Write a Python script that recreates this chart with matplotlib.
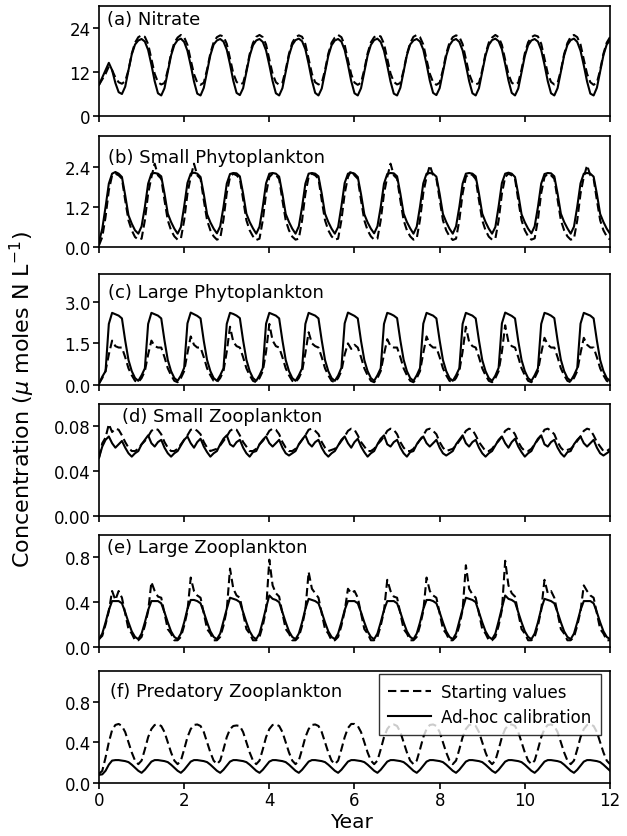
import numpy as np
import matplotlib
matplotlib.use("Agg")
import matplotlib.pyplot as plt

# model output, 13 steps per year, 12 years
years = np.arange(157) / 13.0

# (a) Nitrate
nitrate_adhoc = [
    8.5, 10.5, 12.5, 14.5, 12.5, 9.0, 6.5, 6.0, 8.0, 12.5, 16.8, 19.5,
    20.6, 21.0, 20.3, 18.0, 14.0, 9.5, 6.2, 5.6, 7.6, 12.0, 16.5, 19.4,
    20.7, 21.1, 20.2, 17.8, 13.8, 9.4, 6.1, 5.6, 7.7, 12.2, 16.6, 19.5,
    20.6, 21.0, 20.3, 18.1, 14.1, 9.6, 6.3, 5.7, 7.6, 12.0, 16.4, 19.3,
    20.6, 21.0, 20.2, 17.9, 13.9, 9.5, 6.2, 5.6, 7.6, 12.1, 16.5, 19.4,
    20.7, 21.1, 20.4, 18.2, 14.2, 9.7, 6.3, 5.6, 7.5, 11.9, 16.4, 19.3,
    20.6, 21.0, 20.3, 18.0, 14.0, 9.5, 6.2, 5.6, 7.6, 12.0, 16.5, 19.4,
    20.7, 21.1, 20.2, 17.8, 13.8, 9.4, 6.1, 5.6, 7.7, 12.2, 16.6, 19.5,
    20.6, 21.0, 20.3, 18.1, 14.1, 9.6, 6.3, 5.7, 7.6, 12.0, 16.4, 19.3,
    20.6, 21.0, 20.2, 17.9, 13.9, 9.5, 6.2, 5.6, 7.6, 12.1, 16.5, 19.4,
    20.7, 21.1, 20.4, 18.2, 14.2, 9.7, 6.3, 5.6, 7.5, 11.9, 16.4, 19.3,
    20.6, 21.0, 20.3, 18.0, 14.0, 9.5, 6.2, 5.6, 7.6, 12.0, 16.5, 19.4,
    20.7, 21.1, 20.2, 17.8, 13.8, 9.4, 6.1, 5.6, 7.7, 12.2, 16.6, 19.5,
    20.6]
nitrate_start = [
    8.5, 10.0, 11.5, 13.5, 12.5, 10.5, 9.2, 8.8, 9.5, 12.5, 17.0, 20.0,
    21.5, 22.0, 21.6, 19.6, 15.5, 11.5, 9.2, 8.6, 9.0, 12.5, 17.0, 20.0,
    21.4, 22.1, 21.5, 19.4, 15.3, 11.4, 9.1, 8.5, 9.1, 12.7, 17.1, 20.1,
    21.5, 22.0, 21.7, 19.7, 15.6, 11.6, 9.3, 8.6, 9.0, 12.4, 16.9, 19.9,
    21.6, 22.1, 21.5, 19.5, 15.4, 11.5, 9.2, 8.5, 9.1, 12.6, 17.0, 20.0,
    21.5, 22.0, 21.6, 19.6, 15.5, 11.5, 9.2, 8.6, 9.0, 12.5, 17.0, 20.0,
    21.4, 22.1, 21.5, 19.4, 15.3, 11.4, 9.1, 8.5, 9.1, 12.7, 17.1, 20.1,
    21.5, 22.0, 21.7, 19.7, 15.6, 11.6, 9.3, 8.6, 9.0, 12.4, 16.9, 19.9,
    21.6, 22.1, 21.5, 19.5, 15.4, 11.5, 9.2, 8.5, 9.1, 12.6, 17.0, 20.0,
    21.5, 22.0, 21.6, 19.6, 15.5, 11.5, 9.2, 8.6, 9.0, 12.5, 17.0, 20.0,
    21.4, 22.1, 21.5, 19.4, 15.3, 11.4, 9.1, 8.5, 9.1, 12.7, 17.1, 20.1,
    21.5, 22.0, 21.7, 19.7, 15.6, 11.6, 9.3, 8.6, 9.0, 12.4, 16.9, 19.9,
    21.6, 22.1, 21.5, 19.5, 15.4, 11.5, 9.2, 8.5, 9.1, 12.6, 17.0, 20.0,
    21.5]

# (b) Small Phytoplankton
sphyto_adhoc = [
    0.15, 0.55, 1.20, 1.90, 2.20, 2.25, 2.20, 2.10, 1.55, 0.95, 0.70, 0.50,
    0.40, 0.62, 1.20, 1.90, 2.20, 2.22, 2.20, 2.12, 1.60, 1.00, 0.75, 0.55,
    0.40, 0.60, 1.22, 1.92, 2.20, 2.23, 2.20, 2.10, 1.58, 0.98, 0.74, 0.55,
    0.41, 0.62, 1.20, 1.90, 2.19, 2.22, 2.21, 2.12, 1.60, 1.00, 0.75, 0.56,
    0.40, 0.61, 1.21, 1.91, 2.20, 2.22, 2.20, 2.11, 1.59, 0.99, 0.75, 0.55,
    0.40, 0.62, 1.20, 1.90, 2.20, 2.22, 2.20, 2.12, 1.60, 1.00, 0.75, 0.55,
    0.40, 0.60, 1.22, 1.92, 2.20, 2.23, 2.20, 2.10, 1.58, 0.98, 0.74, 0.55,
    0.41, 0.62, 1.20, 1.90, 2.19, 2.22, 2.21, 2.12, 1.60, 1.00, 0.75, 0.56,
    0.40, 0.61, 1.21, 1.91, 2.20, 2.22, 2.20, 2.11, 1.59, 0.99, 0.75, 0.55,
    0.40, 0.62, 1.20, 1.90, 2.20, 2.22, 2.20, 2.12, 1.60, 1.00, 0.75, 0.55,
    0.40, 0.60, 1.22, 1.92, 2.20, 2.23, 2.20, 2.10, 1.58, 0.98, 0.74, 0.55,
    0.41, 0.62, 1.20, 1.90, 2.19, 2.22, 2.21, 2.12, 1.60, 1.00, 0.75, 0.56,
    0.40, 0.61, 1.21, 1.91, 2.20, 2.22, 2.20, 2.11, 1.59, 0.99, 0.75, 0.55,
    0.40]
sphyto_start = [
    0.05, 0.30, 0.90, 1.70, 2.15, 2.20, 2.15, 2.05, 1.40, 0.80, 0.50, 0.30,
    0.22, 0.25, 0.80, 1.60, 2.10, 2.50, 2.15, 2.05, 1.40, 0.80, 0.50, 0.32,
    0.22, 0.25, 0.80, 1.60, 2.10, 2.50, 2.15, 2.05, 1.40, 0.80, 0.50, 0.32,
    0.22, 0.26, 0.82, 1.62, 2.10, 2.20, 2.15, 2.05, 1.42, 0.80, 0.50, 0.32,
    0.21, 0.25, 0.80, 1.60, 2.10, 2.20, 2.16, 2.04, 1.40, 0.80, 0.50, 0.31,
    0.22, 0.25, 0.80, 1.60, 2.10, 2.20, 2.15, 2.05, 1.40, 0.80, 0.50, 0.32,
    0.22, 0.25, 0.80, 1.60, 2.10, 2.30, 2.15, 2.05, 1.40, 0.80, 0.50, 0.32,
    0.22, 0.25, 0.80, 1.60, 2.10, 2.50, 2.15, 2.05, 1.40, 0.80, 0.50, 0.32,
    0.22, 0.26, 0.82, 1.62, 2.10, 2.45, 2.15, 2.05, 1.42, 0.80, 0.50, 0.32,
    0.21, 0.25, 0.80, 1.60, 2.10, 2.20, 2.16, 2.04, 1.40, 0.80, 0.50, 0.31,
    0.22, 0.25, 0.80, 1.60, 2.10, 2.20, 2.15, 2.05, 1.40, 0.80, 0.50, 0.32,
    0.22, 0.26, 0.82, 1.62, 2.10, 2.20, 2.15, 2.05, 1.42, 0.80, 0.50, 0.32,
    0.22, 0.25, 0.80, 1.60, 2.10, 2.45, 2.15, 2.05, 1.40, 0.80, 0.50, 0.32,
    0.22]

# (c) Large Phytoplankton
lphyto_adhoc = [
    0.05, 0.30, 0.50, 2.20, 2.60, 2.55, 2.50, 2.40, 1.60, 0.90, 0.50, 0.25,
    0.15, 0.35, 0.60, 2.20, 2.60, 2.55, 2.50, 2.40, 1.60, 0.90, 0.50, 0.25,
    0.15, 0.34, 0.62, 2.22, 2.61, 2.55, 2.49, 2.40, 1.58, 0.90, 0.50, 0.25,
    0.15, 0.35, 0.60, 2.20, 2.60, 2.56, 2.50, 2.41, 1.60, 0.91, 0.50, 0.25,
    0.15, 0.35, 0.61, 2.21, 2.60, 2.55, 2.50, 2.40, 1.60, 0.90, 0.50, 0.25,
    0.15, 0.35, 0.60, 2.20, 2.60, 2.55, 2.50, 2.40, 1.60, 0.90, 0.50, 0.25,
    0.15, 0.34, 0.62, 2.22, 2.61, 2.55, 2.49, 2.40, 1.58, 0.90, 0.50, 0.25,
    0.15, 0.35, 0.60, 2.20, 2.60, 2.56, 2.50, 2.41, 1.60, 0.91, 0.50, 0.25,
    0.15, 0.35, 0.61, 2.21, 2.60, 2.55, 2.50, 2.40, 1.60, 0.90, 0.50, 0.25,
    0.15, 0.35, 0.60, 2.20, 2.60, 2.55, 2.50, 2.40, 1.60, 0.90, 0.50, 0.25,
    0.15, 0.34, 0.62, 2.22, 2.61, 2.55, 2.49, 2.40, 1.58, 0.90, 0.50, 0.25,
    0.15, 0.35, 0.60, 2.20, 2.60, 2.56, 2.50, 2.41, 1.60, 0.91, 0.50, 0.25,
    0.15, 0.35, 0.61, 2.21, 2.60, 2.55, 2.50, 2.40, 1.60, 0.90, 0.50, 0.25,
    0.15]
lphyto_start = [
    0.05, 0.25, 0.50, 1.10, 1.60, 1.40, 1.35, 1.35, 1.00, 0.60, 0.35, 0.15,
    0.10, 0.25, 0.50, 1.10, 1.60, 1.40, 1.35, 1.35, 1.00, 0.60, 0.35, 0.15,
    0.10, 0.25, 0.50, 1.15, 1.75, 1.45, 1.35, 1.35, 1.00, 0.60, 0.35, 0.15,
    0.10, 0.25, 0.50, 1.20, 2.10, 1.55, 1.40, 1.35, 1.00, 0.60, 0.35, 0.15,
    0.10, 0.25, 0.50, 1.20, 2.20, 1.60, 1.40, 1.35, 1.00, 0.60, 0.35, 0.15,
    0.10, 0.25, 0.50, 1.15, 1.90, 1.50, 1.40, 1.35, 1.00, 0.60, 0.35, 0.15,
    0.10, 0.25, 0.50, 1.10, 1.50, 1.30, 1.45, 1.35, 1.00, 0.60, 0.35, 0.15,
    0.10, 0.25, 0.50, 1.10, 1.65, 1.40, 1.35, 1.35, 1.00, 0.60, 0.35, 0.15,
    0.10, 0.25, 0.50, 1.15, 1.75, 1.45, 1.35, 1.35, 1.00, 0.60, 0.35, 0.15,
    0.10, 0.25, 0.50, 1.20, 2.10, 1.55, 1.40, 1.35, 1.00, 0.60, 0.35, 0.15,
    0.10, 0.25, 0.50, 1.20, 2.15, 1.55, 1.40, 1.35, 1.00, 0.60, 0.35, 0.15,
    0.10, 0.25, 0.50, 1.15, 1.70, 1.45, 1.35, 1.35, 1.00, 0.60, 0.35, 0.15,
    0.10, 0.25, 0.50, 1.15, 1.70, 1.45, 1.35, 1.35, 1.00, 0.60, 0.35, 0.15,
    0.10]

# (d) Small Zooplankton
szoo_adhoc = [
    0.052, 0.062, 0.068, 0.071, 0.065, 0.061, 0.064, 0.067, 0.061, 0.056, 0.053, 0.056,
    0.058, 0.064, 0.068, 0.072, 0.065, 0.062, 0.066, 0.068, 0.061, 0.056, 0.053, 0.056,
    0.058, 0.063, 0.068, 0.071, 0.065, 0.061, 0.066, 0.069, 0.062, 0.057, 0.053, 0.056,
    0.058, 0.064, 0.069, 0.072, 0.064, 0.062, 0.066, 0.068, 0.061, 0.056, 0.053, 0.057,
    0.058, 0.064, 0.068, 0.071, 0.065, 0.062, 0.065, 0.068, 0.061, 0.056, 0.054, 0.056,
    0.058, 0.064, 0.068, 0.072, 0.065, 0.062, 0.066, 0.068, 0.061, 0.056, 0.053, 0.056,
    0.058, 0.063, 0.068, 0.071, 0.065, 0.061, 0.066, 0.069, 0.062, 0.057, 0.053, 0.056,
    0.058, 0.064, 0.069, 0.072, 0.064, 0.062, 0.066, 0.068, 0.061, 0.056, 0.053, 0.057,
    0.058, 0.064, 0.068, 0.071, 0.065, 0.062, 0.065, 0.068, 0.061, 0.056, 0.054, 0.056,
    0.058, 0.064, 0.068, 0.072, 0.065, 0.062, 0.066, 0.068, 0.061, 0.056, 0.053, 0.056,
    0.058, 0.063, 0.068, 0.071, 0.065, 0.061, 0.066, 0.069, 0.062, 0.057, 0.053, 0.056,
    0.058, 0.064, 0.069, 0.072, 0.064, 0.062, 0.066, 0.068, 0.061, 0.056, 0.053, 0.057,
    0.058, 0.064, 0.068, 0.071, 0.065, 0.062, 0.065, 0.068, 0.061, 0.056, 0.054, 0.056,
    0.058]
szoo_start = [
    0.052, 0.065, 0.070, 0.082, 0.075, 0.078, 0.077, 0.072, 0.066, 0.061, 0.058, 0.058,
    0.060, 0.064, 0.067, 0.071, 0.076, 0.078, 0.077, 0.073, 0.066, 0.061, 0.058, 0.058,
    0.060, 0.064, 0.068, 0.072, 0.077, 0.078, 0.076, 0.073, 0.066, 0.061, 0.058, 0.059,
    0.060, 0.063, 0.067, 0.071, 0.076, 0.078, 0.077, 0.072, 0.066, 0.062, 0.058, 0.058,
    0.060, 0.064, 0.067, 0.071, 0.076, 0.078, 0.077, 0.073, 0.066, 0.061, 0.058, 0.058,
    0.060, 0.064, 0.068, 0.072, 0.077, 0.078, 0.076, 0.073, 0.066, 0.061, 0.058, 0.059,
    0.060, 0.063, 0.067, 0.071, 0.076, 0.078, 0.077, 0.072, 0.066, 0.062, 0.058, 0.058,
    0.060, 0.064, 0.067, 0.071, 0.076, 0.078, 0.077, 0.073, 0.066, 0.061, 0.058, 0.058,
    0.060, 0.064, 0.068, 0.072, 0.077, 0.078, 0.076, 0.073, 0.066, 0.061, 0.058, 0.059,
    0.060, 0.063, 0.067, 0.071, 0.076, 0.078, 0.077, 0.072, 0.066, 0.062, 0.058, 0.058,
    0.060, 0.064, 0.067, 0.071, 0.076, 0.078, 0.077, 0.073, 0.066, 0.061, 0.058, 0.058,
    0.060, 0.064, 0.068, 0.072, 0.077, 0.078, 0.076, 0.073, 0.066, 0.061, 0.058, 0.059,
    0.060, 0.063, 0.067, 0.071, 0.076, 0.078, 0.077, 0.072, 0.066, 0.062, 0.058, 0.058,
    0.060]

# (e) Large Zooplankton
lzoo_adhoc = [
    0.07, 0.12, 0.22, 0.33, 0.41, 0.41, 0.41, 0.39, 0.31, 0.22, 0.14, 0.09,
    0.07, 0.12, 0.22, 0.33, 0.41, 0.41, 0.41, 0.39, 0.31, 0.22, 0.14, 0.09,
    0.07, 0.12, 0.22, 0.34, 0.42, 0.42, 0.41, 0.39, 0.31, 0.22, 0.14, 0.09,
    0.07, 0.12, 0.23, 0.34, 0.44, 0.43, 0.42, 0.40, 0.31, 0.22, 0.14, 0.09,
    0.07, 0.12, 0.23, 0.35, 0.46, 0.43, 0.42, 0.40, 0.31, 0.22, 0.14, 0.09,
    0.07, 0.12, 0.22, 0.34, 0.43, 0.42, 0.41, 0.39, 0.31, 0.22, 0.14, 0.09,
    0.07, 0.12, 0.22, 0.33, 0.41, 0.41, 0.41, 0.39, 0.31, 0.22, 0.14, 0.09,
    0.07, 0.12, 0.22, 0.33, 0.41, 0.41, 0.41, 0.39, 0.31, 0.22, 0.14, 0.09,
    0.07, 0.12, 0.22, 0.34, 0.42, 0.42, 0.41, 0.39, 0.31, 0.22, 0.14, 0.09,
    0.07, 0.12, 0.23, 0.34, 0.44, 0.43, 0.42, 0.40, 0.31, 0.22, 0.14, 0.09,
    0.07, 0.12, 0.23, 0.35, 0.46, 0.43, 0.42, 0.40, 0.31, 0.22, 0.14, 0.09,
    0.07, 0.12, 0.22, 0.34, 0.43, 0.42, 0.41, 0.39, 0.31, 0.22, 0.14, 0.09,
    0.07, 0.12, 0.22, 0.33, 0.41, 0.41, 0.41, 0.39, 0.31, 0.22, 0.14, 0.09,
    0.07]
lzoo_start = [
    0.07, 0.10, 0.20, 0.32, 0.50, 0.42, 0.50, 0.44, 0.30, 0.16, 0.12, 0.06,
    0.06, 0.09, 0.19, 0.32, 0.58, 0.50, 0.45, 0.44, 0.30, 0.16, 0.12, 0.06,
    0.06, 0.09, 0.19, 0.32, 0.62, 0.50, 0.46, 0.44, 0.30, 0.16, 0.12, 0.06,
    0.06, 0.09, 0.19, 0.33, 0.70, 0.52, 0.46, 0.44, 0.30, 0.16, 0.12, 0.06,
    0.06, 0.09, 0.19, 0.33, 0.78, 0.55, 0.48, 0.45, 0.30, 0.16, 0.12, 0.06,
    0.06, 0.09, 0.19, 0.33, 0.67, 0.52, 0.48, 0.44, 0.30, 0.16, 0.12, 0.06,
    0.06, 0.09, 0.19, 0.32, 0.52, 0.48, 0.50, 0.44, 0.30, 0.16, 0.12, 0.06,
    0.06, 0.09, 0.19, 0.32, 0.60, 0.50, 0.45, 0.44, 0.30, 0.16, 0.12, 0.06,
    0.06, 0.09, 0.19, 0.32, 0.62, 0.50, 0.46, 0.44, 0.30, 0.16, 0.12, 0.06,
    0.06, 0.09, 0.19, 0.33, 0.73, 0.52, 0.47, 0.44, 0.30, 0.16, 0.12, 0.06,
    0.06, 0.09, 0.19, 0.33, 0.77, 0.55, 0.48, 0.45, 0.30, 0.16, 0.12, 0.06,
    0.06, 0.09, 0.19, 0.33, 0.60, 0.48, 0.50, 0.44, 0.30, 0.16, 0.12, 0.06,
    0.06, 0.09, 0.19, 0.32, 0.55, 0.50, 0.46, 0.44, 0.30, 0.16, 0.12, 0.06,
    0.06]

# (f) Predatory Zooplankton
pzoo_adhoc = [
    0.080, 0.085, 0.120, 0.180, 0.220, 0.225, 0.225, 0.220, 0.215, 0.205, 0.180, 0.150,
    0.120, 0.100, 0.130, 0.170, 0.210, 0.225, 0.225, 0.220, 0.215, 0.205, 0.180, 0.150,
    0.120, 0.100, 0.130, 0.170, 0.210, 0.225, 0.225, 0.220, 0.215, 0.205, 0.180, 0.150,
    0.120, 0.100, 0.130, 0.170, 0.210, 0.225, 0.225, 0.220, 0.215, 0.205, 0.180, 0.150,
    0.120, 0.100, 0.130, 0.170, 0.210, 0.225, 0.225, 0.220, 0.215, 0.205, 0.180, 0.150,
    0.120, 0.100, 0.130, 0.170, 0.210, 0.225, 0.225, 0.220, 0.215, 0.205, 0.180, 0.150,
    0.120, 0.100, 0.130, 0.170, 0.210, 0.225, 0.225, 0.220, 0.215, 0.205, 0.180, 0.150,
    0.120, 0.100, 0.130, 0.170, 0.210, 0.225, 0.225, 0.220, 0.215, 0.205, 0.180, 0.150,
    0.120, 0.100, 0.130, 0.170, 0.210, 0.225, 0.225, 0.220, 0.215, 0.205, 0.180, 0.150,
    0.120, 0.100, 0.130, 0.170, 0.210, 0.225, 0.225, 0.220, 0.215, 0.205, 0.180, 0.150,
    0.120, 0.100, 0.130, 0.170, 0.210, 0.225, 0.225, 0.220, 0.215, 0.205, 0.180, 0.150,
    0.120, 0.100, 0.130, 0.170, 0.210, 0.225, 0.225, 0.220, 0.215, 0.205, 0.180, 0.150,
    0.120, 0.100, 0.130, 0.170, 0.210, 0.225, 0.225, 0.220, 0.215, 0.205, 0.180, 0.150,
    0.120]
pzoo_start = [
    0.09, 0.12, 0.25, 0.40, 0.52, 0.57, 0.58, 0.56, 0.50, 0.40, 0.30, 0.22,
    0.185, 0.22, 0.33, 0.45, 0.53, 0.57, 0.575, 0.56, 0.50, 0.40, 0.30, 0.22,
    0.185, 0.22, 0.33, 0.45, 0.53, 0.57, 0.575, 0.56, 0.50, 0.40, 0.30, 0.22,
    0.185, 0.22, 0.33, 0.45, 0.53, 0.56, 0.565, 0.56, 0.50, 0.40, 0.30, 0.22,
    0.185, 0.22, 0.33, 0.45, 0.53, 0.57, 0.575, 0.56, 0.50, 0.40, 0.30, 0.22,
    0.185, 0.22, 0.33, 0.45, 0.53, 0.57, 0.575, 0.56, 0.50, 0.40, 0.30, 0.22,
    0.185, 0.22, 0.33, 0.45, 0.54, 0.58, 0.580, 0.56, 0.50, 0.40, 0.30, 0.22,
    0.185, 0.22, 0.33, 0.45, 0.53, 0.57, 0.575, 0.56, 0.50, 0.40, 0.30, 0.22,
    0.185, 0.22, 0.33, 0.45, 0.53, 0.57, 0.575, 0.56, 0.50, 0.40, 0.30, 0.22,
    0.185, 0.22, 0.33, 0.45, 0.53, 0.57, 0.575, 0.56, 0.50, 0.40, 0.30, 0.22,
    0.185, 0.22, 0.33, 0.45, 0.53, 0.57, 0.575, 0.56, 0.50, 0.40, 0.30, 0.22,
    0.185, 0.22, 0.33, 0.45, 0.53, 0.57, 0.575, 0.56, 0.50, 0.40, 0.30, 0.22,
    0.185, 0.22, 0.33, 0.45, 0.53, 0.57, 0.575, 0.56, 0.50, 0.40, 0.30, 0.22,
    0.185]

panel_titles = ["(a) Nitrate", "(b) Small Phytoplankton", "(c) Large Phytoplankton",
                "(d) Small Zooplankton", "(e) Large Zooplankton", "(f) Predatory Zooplankton"]
start_series = [nitrate_start, sphyto_start, lphyto_start, szoo_start, lzoo_start, pzoo_start]
adhoc_series = [nitrate_adhoc, sphyto_adhoc, lphyto_adhoc, szoo_adhoc, lzoo_adhoc, pzoo_adhoc]
y_max = [30, 3.33, 4.0, 0.1, 1.0, 1.1]
y_ticks = [[0, 12, 24], [0, 1.2, 2.4], [0, 1.5, 3.0], [0, 0.04, 0.08], [0, 0.4, 0.8], [0, 0.4, 0.8]]
y_ticklabels = [["0", "12", "24"], ["0.0", "1.2", "2.4"], ["0.0", "1.5", "3.0"],
                ["0.00", "0.04", "0.08"], ["0.0", "0.4", "0.8"], ["0.0", "0.4", "0.8"]]
x_ticks = [0, 2, 4, 6, 8, 10, 12]

# layout in pixels (top, bottom) of each panel, label placement
panel_px = [(7, 117), (137, 248), (275, 386), (405, 517), (536, 648), (672, 784)]
label_pos = [(0.015, 0.88), (0.017, 0.81), (0.017, 0.84), (0.045, 0.89), (0.015, 0.89), (0.022, 0.82)]

plt.rcParams['font.family'] = 'DejaVu Sans'
W, H = 627, 837
fig = plt.figure(figsize=(W / 100, H / 100), dpi=100)

for k in range(6):
    top, bot = panel_px[k]
    ax = fig.add_axes([99 / W, 1 - bot / H, (610 - 99) / W, (bot - top) / H])
    ls, = ax.plot(years, start_series[k], color='black', lw=1.5, dashes=(4, 2))
    la, = ax.plot(years, adhoc_series[k], color='black', lw=1.5)
    ax.set_xlim(0, 12)
    ax.set_ylim(0, y_max[k])
    ax.set_xticks(x_ticks)
    ax.set_yticks(y_ticks[k])
    ax.set_yticklabels(y_ticklabels[k])
    ax.tick_params(direction='out', length=4, width=1.2, labelsize=12, pad=2)
    for s in ax.spines.values():
        s.set_linewidth(1.2)
    if k < 5:
        ax.set_xticklabels([])
    ax.text(label_pos[k][0], label_pos[k][1], panel_titles[k], transform=ax.transAxes,
            fontsize=13, va='center', ha='left')
    if k == 5:
        leg = ax.legend([ls, la], ["Starting values", "Ad-hoc calibration"],
                        loc='upper right', bbox_to_anchor=(0.982, 0.973), borderaxespad=0,
                        fontsize=12, handlelength=2.6, frameon=True, fancybox=False,
                        borderpad=0.55, labelspacing=0.4, handletextpad=0.6)
        leg.get_frame().set_edgecolor('black')
        leg.get_frame().set_linewidth(1.0)

fig.text(0.035, 0.523, r"Concentration ($\mu$ moles N L$^{-1}$)", rotation=90,
         ha='center', va='center', fontsize=16)
fig.text(352 / W, 1 - 823 / H, "Year", ha='center', va='center', fontsize=14.5)

fig.savefig("out.png", dpi=100)
